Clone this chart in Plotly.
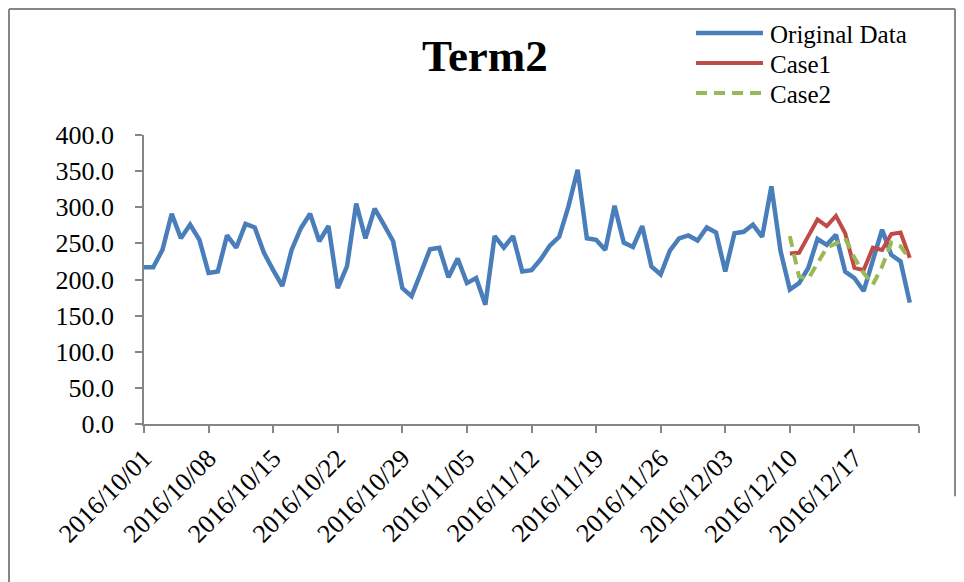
import pandas as pd
import plotly.graph_objects as go

# ---- data ----
start_date = "2016-10-01"
n_days = 84
dates = pd.date_range(start_date, periods=n_days, freq="D")

original = [217, 217, 241, 291, 257, 276, 255, 209, 211, 261,
            244, 277, 272, 237, 213, 191, 241, 271, 291, 253,
            274, 188, 218, 305, 257, 298, 276, 253, 188, 177,
            209, 242, 244, 203, 229, 195, 202, 165, 260, 244,
            260, 211, 213, 228, 247, 259, 301, 352, 257, 255,
            241, 302, 251, 245, 274, 218, 207, 240, 257, 261,
            254, 272, 265, 211, 264, 266, 276, 259, 329, 239,
            186, 195, 216, 256, 248, 262, 211, 202, 184, 227,
            269, 234, 225, 168]

case_start = 70  # 2016/12/10
case1 = [236, 237, 260, 283, 274, 288, 264, 216, 213, 244, 241, 263, 265, 230]
case2 = [260, 204, 201, 222, 244, 250, 257, 230, 209, 193, 218, 251, 246, 228]

tick_dates = pd.date_range(start_date, "2016-12-24", freq="7D")
tick_labels = [d.strftime("%Y/%m/%d") for d in tick_dates]
tick_labels[-1] = ""

series_names = ["Original Data", "Case1", "Case2"]
colors = ["#4A7EBB", "#BE4B48", "#98B954"]
widths = [4.5, 4, 4]
dashes = ["solid", "solid", "11px,7px"]

FONT = "Liberation Serif"

fig = go.Figure()
fig.add_trace(go.Scatter(x=dates, y=original, mode="lines", name=series_names[0],
                         line=dict(color=colors[0], width=widths[0], dash=dashes[0])))
fig.add_trace(go.Scatter(x=dates[case_start:], y=case1, mode="lines", name=series_names[1],
                         line=dict(color=colors[1], width=widths[1], dash=dashes[1])))
fig.add_trace(go.Scatter(x=dates[case_start:], y=case2, mode="lines", name=series_names[2],
                         line=dict(color=colors[2], width=widths[2], dash=dashes[2])))

axis_col = "#868686"

# legend drawn as shapes + text (paper coordinates)
leg_x0, leg_x1, leg_tx = 0.7123, 0.7987, 0.8052
leg_rows = [1.3529, 1.2491, 1.1453]
shapes = [
    dict(type="line", xref="paper", yref="paper", x0=-0.1742, x1=1.0465, y0=1.436, y1=1.436,
         line=dict(color=axis_col, width=2)),
    dict(type="line", xref="paper", yref="paper", x0=-0.1742, x1=-0.1742, y0=1.436, y1=-0.55,
         line=dict(color=axis_col, width=2)),
    dict(type="line", xref="paper", yref="paper", x0=1.0465, x1=1.0465, y0=1.436, y1=-0.25,
         line=dict(color=axis_col, width=2)),
]
annotations = [dict(text="<b>Term2</b>", x=0.44, y=1.275, xref="paper", yref="paper",
                    xanchor="center", yanchor="middle", showarrow=False,
                    font=dict(family=FONT, size=45, color="black"))]
for name, col, w, d, yy in zip(series_names, colors, widths, dashes, leg_rows):
    shapes.append(dict(type="line", xref="paper", yref="paper", x0=leg_x0, x1=leg_x1,
                       y0=yy, y1=yy, line=dict(color=col, width=w, dash=d)))
    annotations.append(dict(text=name, x=leg_tx, y=yy - 0.004, xref="paper", yref="paper",
                            xanchor="left", yanchor="middle", showarrow=False,
                            font=dict(family=FONT, size=25, color="black")))

fig.update_layout(
    width=956, height=574,
    margin=dict(l=136, r=45, t=127, b=158, autoexpand=False),
    paper_bgcolor="white", plot_bgcolor="white",
    font=dict(family=FONT, color="black", size=24),
    showlegend=False,
    xaxis=dict(type="date", range=[dates[0], pd.Timestamp("2016-12-24")],
               tickmode="array", tickvals=tick_dates, ticktext=tick_labels,
               tickangle=-45, showgrid=False, zeroline=False,
               showline=True, linecolor=axis_col, linewidth=1.5,
               ticks="outside", ticklen=7, tickcolor=axis_col, tickwidth=1.5,
               tickfont=dict(family=FONT, size=26, color="black")),
    yaxis=dict(range=[0, 400], dtick=50, tick0=0, tickformat=".1f",
               showgrid=False, zeroline=False,
               showline=True, linecolor=axis_col, linewidth=1.5,
               ticks="outside", ticklen=7, tickcolor=axis_col, tickwidth=1.5,
               ticklabelstandoff=16,
               tickfont=dict(family=FONT, size=26, color="black")),
    annotations=annotations,
    shapes=shapes,
)

fig.write_html("out.html")
